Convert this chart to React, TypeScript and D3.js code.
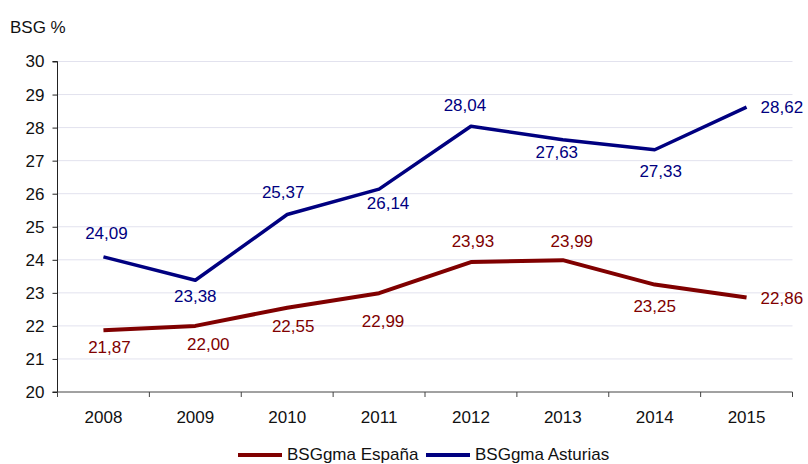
import React, { useRef, useEffect } from 'react';
import * as d3 from 'd3';

const years = ['2008', '2009', '2010', '2011', '2012', '2013', '2014', '2015'];
const espana = [21.87, 22.0, 22.55, 22.99, 23.93, 23.99, 23.25, 22.86];
const asturias = [24.09, 23.38, 25.37, 26.14, 28.04, 27.63, 27.33, 28.62];
const yTicks = [20, 21, 22, 23, 24, 25, 26, 27, 28, 29, 30];

// label nudges (dx, dy) from each point; last label sits right of its point
const espanaLabelPos: [number, number][] = [[6, 17], [13, 18], [6, 18], [4, 28], [2, -21], [9, -19], [0, 21], [14, 0]];
const asturiasLabelPos: [number, number][] = [[3, -24], [0, 16], [-4, -23], [9, 14], [-6, -21], [-6, 12], [6, 21], [14, 0]];

const RED = '#800000';
const BLUE = '#000080';

const App: React.FC = () => {
  const ref = useRef<SVGSVGElement | null>(null);

  useEffect(() => {
    if (!ref.current) return;
    const svg = d3.select(ref.current);
    svg.selectAll('*').remove();

    const left = 57.5;
    const right = 792.5;
    const top = 61.5;
    const bottom = 392;

    const x = d3.scaleBand<string>().domain(years).range([left, right]);
    const y = d3.scaleLinear().domain([20, 30]).range([bottom, top]);
    const cx = (i: number) => (x(years[i]) as number) + x.bandwidth() / 2;

    // gridlines
    svg.append('g')
      .selectAll('line')
      .data(yTicks.slice(1))
      .join('line')
      .attr('x1', left)
      .attr('x2', right)
      .attr('y1', d => y(d))
      .attr('y2', d => y(d))
      .attr('stroke', '#e2e2ee')
      .attr('stroke-width', 1);

    // y axis
    const yAxis = svg.append('g')
      .attr('transform', `translate(${left},0)`)
      .call(d3.axisLeft(y).tickValues(yTicks).tickSize(5).tickPadding(8).tickFormat(d3.format('d')));
    yAxis.select('.domain').attr('stroke', '#222').attr('d', `M-5,${top}H0V${bottom}H-5`);
    yAxis.selectAll('line').attr('stroke', '#222');
    yAxis.selectAll('text')
      .attr('font-size', 17)
      .attr('font-family', '"Liberation Sans", Arial, sans-serif')
      .attr('fill', '#111');

    // x axis
    const xTickPos = years.map((_, i) => left + i * x.step()).concat([right]);
    const xg = svg.append('g');
    xg.append('line')
      .attr('x1', left).attr('x2', right)
      .attr('y1', bottom).attr('y2', bottom)
      .attr('stroke', '#444');
    xg.selectAll('line.tick')
      .data(xTickPos)
      .join('line')
      .attr('class', 'tick')
      .attr('x1', d => d).attr('x2', d => d)
      .attr('y1', bottom).attr('y2', bottom + 5)
      .attr('stroke', '#444');
    xg.selectAll('text')
      .data(years)
      .join('text')
      .attr('x', (_, i) => cx(i))
      .attr('y', bottom + 31)
      .attr('text-anchor', 'middle')
      .attr('font-size', 17)
      .attr('font-family', '"Liberation Sans", Arial, sans-serif')
      .attr('fill', '#111')
      .text(d => d);

    const line = d3.line<number>()
      .x((_, i) => cx(i))
      .y(d => y(d));

    const series = [
      { values: espana, color: RED, width: 4, pos: espanaLabelPos },
      { values: asturias, color: BLUE, width: 3.5, pos: asturiasLabelPos },
    ];

    series.forEach(s => {
      svg.append('path')
        .datum(s.values)
        .attr('d', line)
        .attr('fill', 'none')
        .attr('stroke', s.color)
        .attr('stroke-width', s.width)
        .attr('stroke-linejoin', 'round');

      svg.append('g')
        .selectAll('text')
        .data(s.values)
        .join('text')
        .attr('x', (_, i) => cx(i) + s.pos[i][0])
        .attr('y', (d, i) => y(d) + s.pos[i][1])
        .attr('dy', '0.36em')
        .attr('text-anchor', (_, i) => (i === s.values.length - 1 ? 'start' : 'middle'))
        .attr('font-size', 17)
        .attr('font-family', '"Liberation Sans", Arial, sans-serif')
        .attr('fill', s.color)
        .text(d => d.toFixed(2).replace('.', ','));
    });

    // y title
    svg.append('text')
      .attr('x', 10)
      .attr('y', 33)
      .attr('font-size', 17)
      .attr('font-family', '"Liberation Sans", Arial, sans-serif')
      .attr('fill', '#111')
      .text('BSG %');

    // legend
    const legend = [
      { name: 'BSGgma España', color: RED, x: 238 },
      { name: 'BSGgma Asturias', color: BLUE, x: 426 },
    ];
    const lg = svg.append('g');
    legend.forEach(l => {
      lg.append('line')
        .attr('x1', l.x).attr('x2', l.x + 44)
        .attr('y1', 455).attr('y2', 455)
        .attr('stroke', l.color)
        .attr('stroke-width', 4);
      lg.append('text')
        .attr('x', l.x + 49)
        .attr('y', 460)
        .attr('font-size', 17)
        .attr('font-family', '"Liberation Sans", Arial, sans-serif')
        .attr('fill', '#111')
        .text(l.name);
    });
  }, []);

  return (
    <div style={{ position: 'absolute', left: 0, top: 0 }}>
      <svg ref={ref} width={808} height={464} style={{ display: 'block', background: '#fff' }} />
    </div>
  );
};

export default App;
